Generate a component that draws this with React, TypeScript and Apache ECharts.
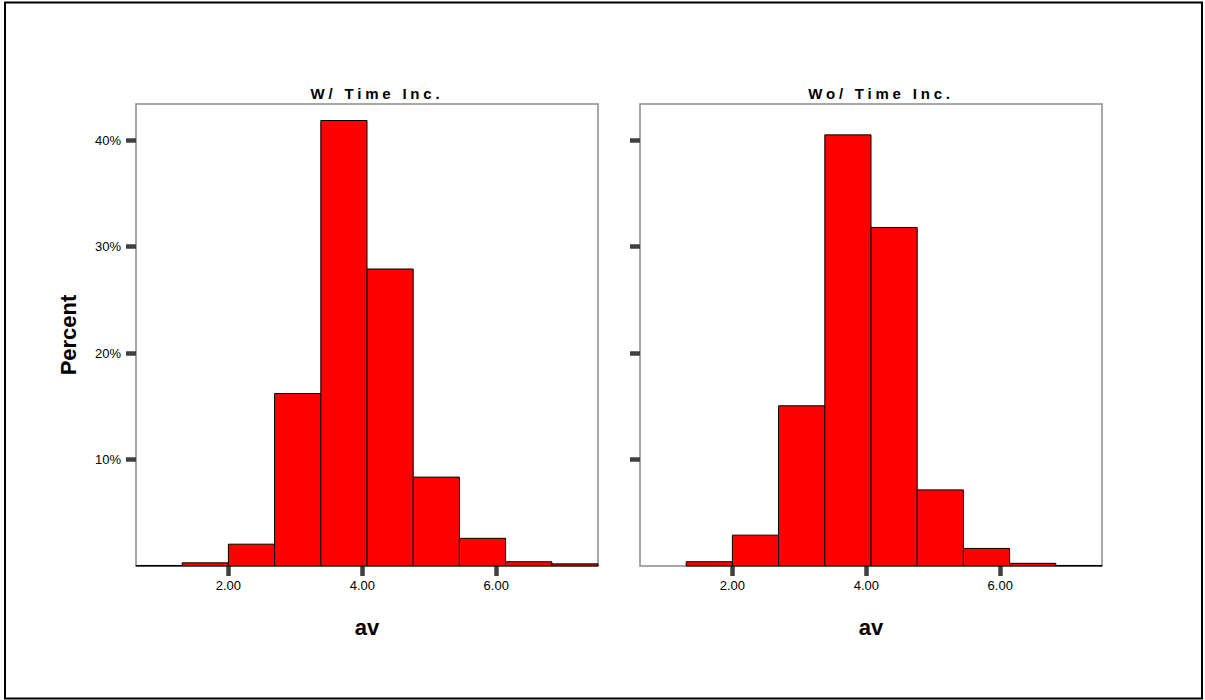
import React, { useEffect, useRef } from "react";
import * as echarts from "echarts";

// Histogram bin edges (av) shared by both panels
const binEdges = [0.62, 1.31, 2.0, 2.69, 3.38, 4.07, 4.76, 5.45, 6.14, 6.83, 7.52];
// Percent per bin
const withTimeInc = [0.05, 0.3, 2.05, 16.2, 41.85, 27.9, 8.35, 2.6, 0.4, 0.2];
const withoutTimeInc = [0, 0.4, 2.9, 15.05, 40.5, 31.8, 7.15, 1.65, 0.25, 0.05];
const panelTitles = ["W/ Time Inc.", "Wo/ Time Inc."];
const xTicks = [2, 4, 6];
const yTicks = [10, 20, 30, 40];
const xName = "av";
const yName = "Percent";

const FONT = "'Liberation Sans', Arial, sans-serif";

function toBins(values: number[]) {
  return values.map((v, i) => [binEdges[i], binEdges[i + 1], v]);
}

export default function App() {
  const ref = useRef<HTMLDivElement>(null);
  useEffect(() => {
    document.body.style.margin = "0";
    const chart = echarts.init(ref.current!, null, { renderer: "svg" });
    const gridLeft = [136, 640];
    const gridW = 462;
    const grids = gridLeft.map((l) => ({
      left: l,
      top: 104,
      width: gridW,
      height: 462,
      show: true,
      borderColor: "#8a8a8a",
      borderWidth: 1.5,
      backgroundColor: "#fff",
    }));
    const xAxes = [0, 1].map((i) => ({
      type: "value",
      gridIndex: i,
      min: binEdges[0],
      max: binEdges[binEdges.length - 1],
      axisLine: { show: false },
      splitLine: { show: false },
      axisTick: {
        show: true,
        length: 10,
        customValues: xTicks,
        lineStyle: { color: "#404040", width: 4.5 },
      },
      axisLabel: {
        customValues: xTicks,
        formatter: (v: number) => v.toFixed(2),
        fontFamily: FONT,
        fontSize: 13,
        color: "#000",
        margin: 13,
      },
      name: xName,
      nameLocation: "middle",
      nameGap: 50,
      nameTextStyle: { fontFamily: FONT, fontSize: 22, fontWeight: "bold", color: "#000" },
    }));
    const yAxes = [0, 1].map((i) => ({
      type: "value",
      gridIndex: i,
      min: 0,
      max: 43.4,
      axisLine: { show: false },
      splitLine: { show: false },
      axisTick: {
        show: true,
        length: 10,
        customValues: yTicks,
        lineStyle: { color: "#404040", width: 4.5 },
      },
      axisLabel: {
        show: i === 0,
        customValues: yTicks,
        formatter: (v: number) => `${v}%`,
        fontFamily: FONT,
        fontSize: 13,
        color: "#000",
        margin: 15,
      },
      name: i === 0 ? yName : "",
      nameLocation: "middle",
      nameRotate: 90,
      nameGap: 57,
      nameTextStyle: { fontFamily: FONT, fontSize: 22, fontWeight: "bold", color: "#000" },
    }));
    const renderItem = (params: any, api: any) => {
      const v = api.value(2);
      if (!(v > 0)) return null;
      const p0 = api.coord([api.value(0), v]);
      const p1 = api.coord([api.value(1), 0]);
      return {
        type: "rect",
        shape: { x: p0[0], y: p0[1], width: p1[0] - p0[0], height: p1[1] - p0[1] },
        style: { fill: "#ff0000", stroke: "#000", lineWidth: 1 },
      };
    };
    const series = [withTimeInc, withoutTimeInc].map((vals, i) => ({
      type: "custom",
      xAxisIndex: i,
      yAxisIndex: i,
      renderItem,
      encode: { x: [0, 1], y: 2 },
      data: toBins(vals),
      clip: false,
    }));
    chart.setOption({
      animation: false,
      backgroundColor: "#fff",
      grid: grids,
      xAxis: xAxes,
      yAxis: yAxes,
      series,
      graphic: [
        {
          type: "rect",
          shape: { x: 5, y: 2.5, width: 1197, height: 696 },
          style: { fill: "none", stroke: "#000", lineWidth: 2 },
          silent: true,
        },
        ...panelTitles.map((t, i) => ({
          type: "text",
          x: gridLeft[i] + gridW / 2 + 10,
          y: 93,
          style: {
            text: t,
            textAlign: "center",
            textVerticalAlign: "middle",
            font: `bold 15px ${FONT}`,
            fill: "#000",
          },
          silent: true,
        })),
      ],
    });
    const applySpacing = () => {
      const texts = ref.current?.querySelectorAll("text") || [];
      texts.forEach((el: any) => {
        if (panelTitles.includes((el.textContent || "").trim())) {
          el.setAttribute("letter-spacing", "3.8px");
        }
      });
    };
    applySpacing();
    chart.on("finished", applySpacing);
    return () => chart.dispose();
  }, []);
  return <div ref={ref} style={{ width: 1205, height: 700, position: "absolute", left: 0, top: 0 }} />;
}
